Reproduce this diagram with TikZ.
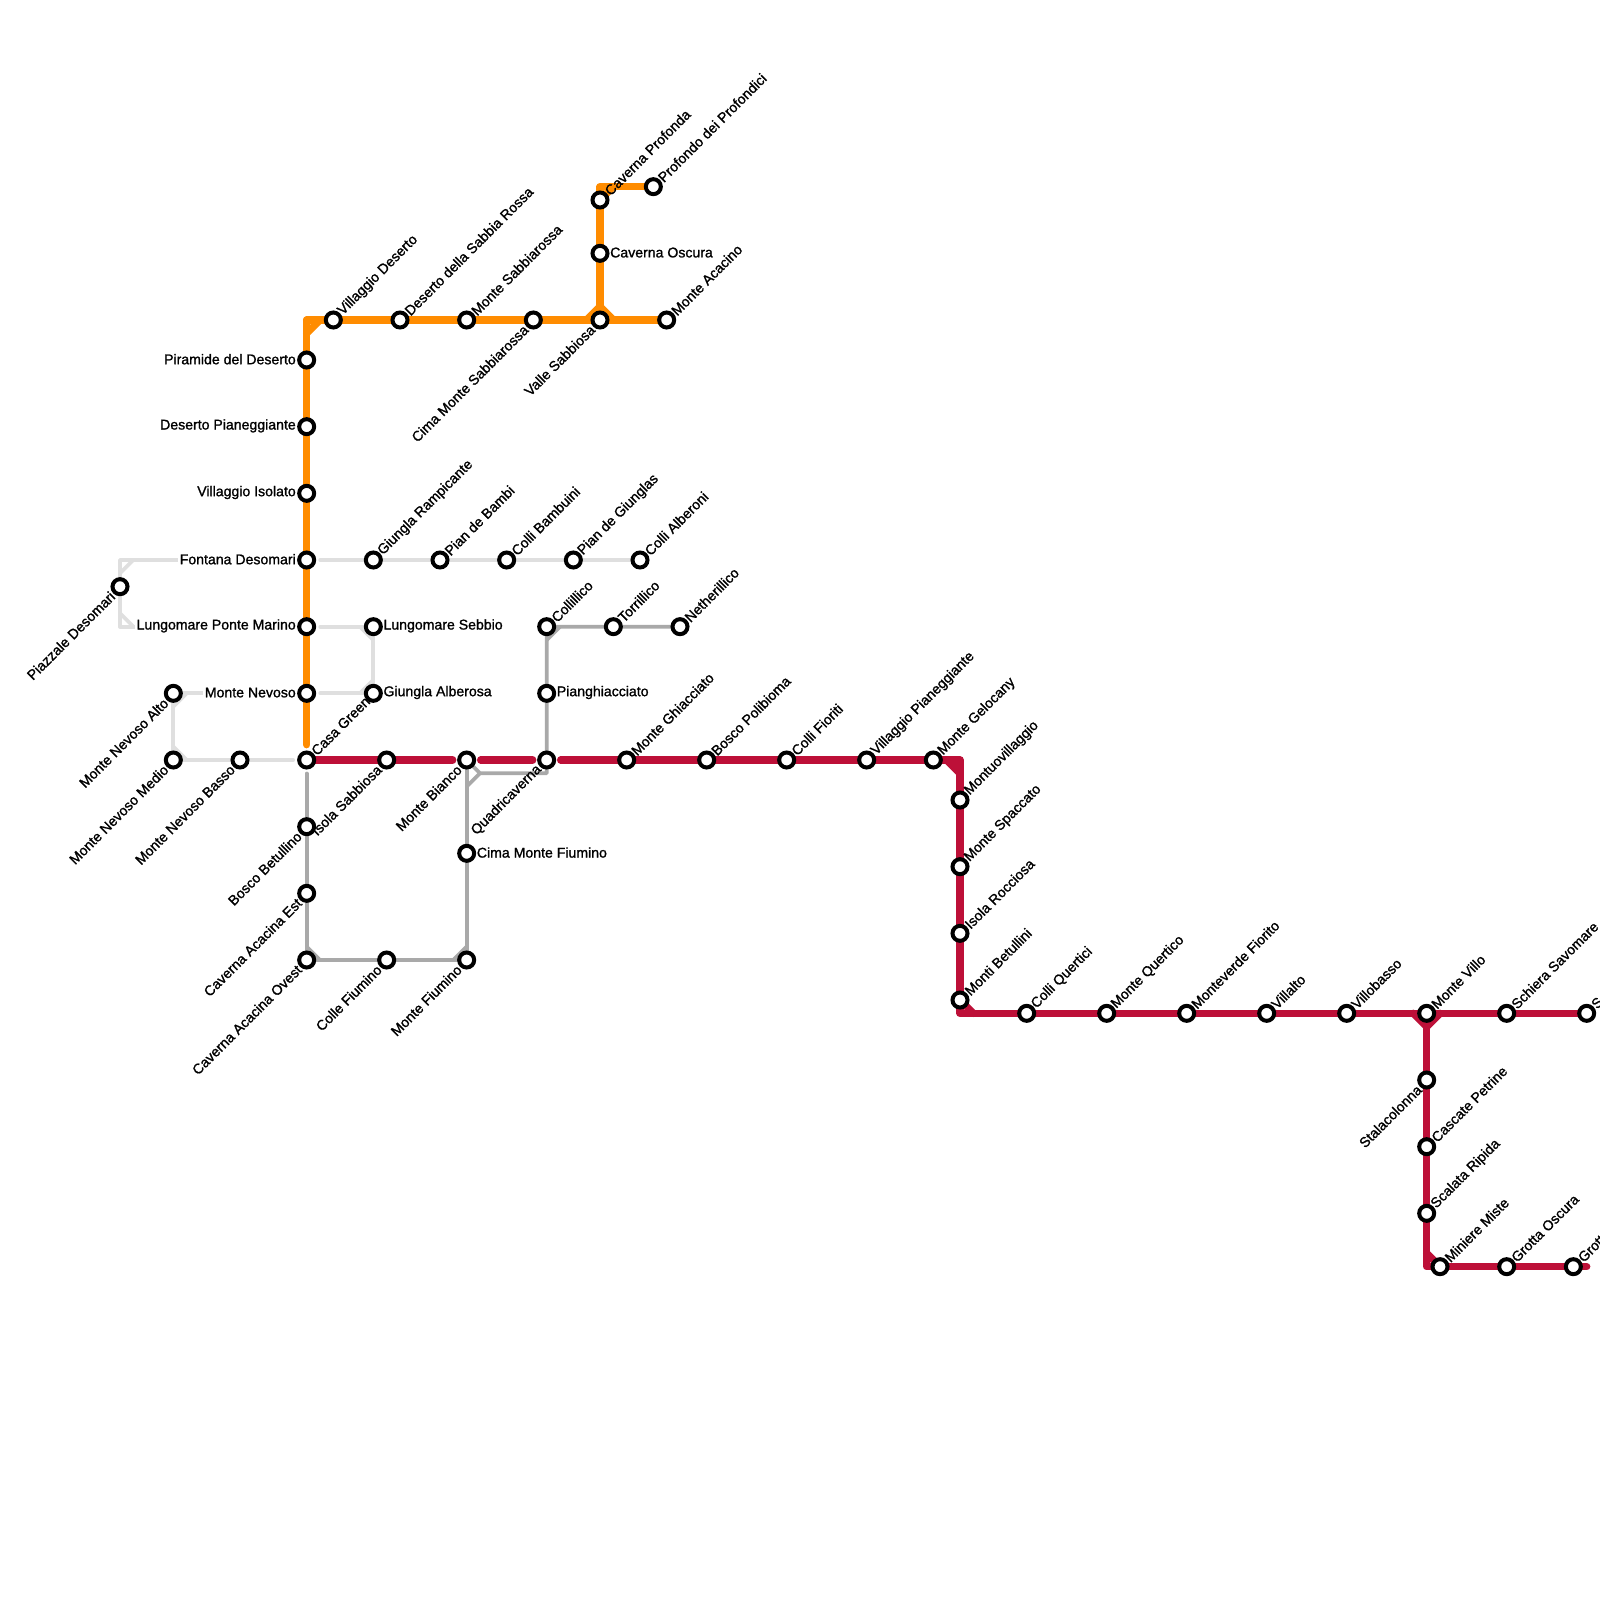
\documentclass[tikz,border=0pt]{standalone}
\usepackage{fontspec}
\setmainfont[FakeBold=1.2]{Liberation Sans}
\definecolor{lnorange}{HTML}{FF8C00}
\definecolor{lnred}{HTML}{BD1038}
\definecolor{lndark}{HTML}{A9A9A9}
\definecolor{lnlight}{HTML}{DFDFDF}
\tikzset{
  stn/.style={circle,draw=black,fill=white,line width=4pt,minimum size=15pt,inner sep=0pt},
  lbl/.style={font=\fontsize{14.1}{16}\selectfont,inner sep=0pt,text=black},
  lR/.style={lbl,anchor=west,xshift=10pt,yshift=0.8pt},
  lL/.style={lbl,anchor=east,xshift=-10.7pt,yshift=0.8pt},
  lLw/.style={lL,fill=white,inner sep=1.5pt,xshift=1.5pt},
  lU/.style={lbl,anchor=west,rotate=45,xshift=9.8pt},
  lD/.style={lbl,anchor=east,rotate=45,xshift=-10.4pt},
  orangeln/.style={draw=lnorange,line width=7.4pt,line cap=round,line join=round},
  redln/.style={draw=lnred,line width=7.4pt,line cap=round,line join=round},
  darkln/.style={draw=lndark,line width=3.7pt,line cap=round,line join=round},
  lightln/.style={draw=lnlight,line width=3.7pt,line cap=round,line join=round},
  gapA/.style={shorten <=13.5pt},
  gapB/.style={shorten >=13.5pt},
  gapRA/.style={shorten <=14pt},
  gapRB/.style={shorten >=14pt},
}
% name, x, y
\newcommand{\stpt}[3]{\coordinate (#1) at (#2,#3);}
\newcommand{\stlbl}[3]{\node[#2] at (#1) {#3};}
\newcommand{\stmark}[1]{\node[stn] (n#1) at (#1) {};}
\begin{document}
\begin{tikzpicture}[x=1pt,y=-1pt]
\useasboundingbox[fill=white] (0,0) rectangle (1600,1600);
% positions
\stpt{pd}{306.67}{360}\stpt{dp}{306.67}{426.67}\stpt{vi}{306.67}{493.33}\stpt{fd}{306.67}{560}
\stpt{lpm}{306.67}{626.67}\stpt{mn}{306.67}{693.33}\stpt{cg}{306.67}{760}
\stpt{vd}{333.33}{320}\stpt{dsr}{400}{320}\stpt{ms}{466.67}{320}\stpt{cms}{533.33}{320}
\stpt{vs}{600}{320}\stpt{mac}{666.67}{320}\stpt{cp}{600}{200}\stpt{pp}{653.33}{186.67}\stpt{co}{600}{253.33}
\stpt{gr}{373.33}{560}\stpt{pb}{440}{560}\stpt{cb}{506.67}{560}\stpt{pg}{573.33}{560}\stpt{ca}{640}{560}
\stpt{ls}{373.33}{626.67}\stpt{ga}{373.33}{693.33}
\stpt{mna}{173.33}{693.33}\stpt{mnm}{173.33}{760}\stpt{mnb}{240}{760}\stpt{pzd}{120}{586.67}
\stpt{cll}{546.67}{626.67}\stpt{tor}{613.33}{626.67}\stpt{net}{680}{626.67}\stpt{pia}{546.67}{693.33}\stpt{qua}{546.67}{760}
\stpt{mb}{466.67}{760}\stpt{cmf}{466.67}{853.33}\stpt{mf}{466.67}{960}\stpt{cf}{386.67}{960}
\stpt{cao}{306.67}{960}\stpt{cae}{306.67}{893.33}\stpt{bb}{306.67}{826.67}
\stpt{isa}{386.67}{760}\stpt{mgh}{626.67}{760}\stpt{bpo}{706.67}{760}\stpt{cfi}{786.67}{760}\stpt{vpi}{866.67}{760}\stpt{mge}{933.33}{760}
\stpt{mtv}{960}{800}\stpt{msp}{960}{866.67}\stpt{iro}{960}{933.33}\stpt{mbe}{960}{1000}
\stpt{cqu}{1026.67}{1013.33}\stpt{mqu}{1106.67}{1013.33}\stpt{mfi}{1186.67}{1013.33}\stpt{val}{1266.67}{1013.33}\stpt{vbs}{1346.67}{1013.33}
\stpt{mvi}{1426.67}{1013.33}\stpt{ssa}{1506.67}{1013.33}\stpt{sxx}{1586.67}{1013.33}
\stpt{sta}{1426.67}{1080}\stpt{cpe}{1426.67}{1146.67}\stpt{sri}{1426.67}{1213.33}
\stpt{mmi}{1440}{1266.67}\stpt{gos}{1506.67}{1266.67}\stpt{gxx}{1573.33}{1266.67}
% free corner points
\coordinate (k1) at (120,560);\coordinate (k2) at (120,626.67);\coordinate (k3) at (120,573.33);\coordinate (k4) at (133.33,560);
\coordinate (k5) at (120,613.33);\coordinate (k6) at (133.33,626.67);\coordinate (k7) at (360,626.67);\coordinate (k8) at (373.33,640);
\coordinate (k9) at (360,693.33);\coordinate (k10) at (373.33,680);\coordinate (k11) at (173.33,706.67);\coordinate (k12) at (186.67,693.33);
\coordinate (k13) at (173.33,746.67);\coordinate (k14) at (186.67,760);
\coordinate (g1) at (546.67,773.33);\coordinate (g2) at (480,773.33);\coordinate (g3) at (466.67,786.67);
\coordinate (g4) at (306.67,946.67);\coordinate (g5) at (320,960);\coordinate (g6) at (453.33,960);\coordinate (g7) at (466.67,946.67);
\coordinate (g8) at (546.67,640);\coordinate (g9) at (560,626.67);
\coordinate (o1) at (306.67,320);\coordinate (o2) at (306.67,333.33);\coordinate (o3) at (320,320);
\coordinate (o4) at (586.67,320);\coordinate (o5) at (600,306.67);\coordinate (o6) at (613.33,320);
\coordinate (o7) at (600,186.67);\coordinate (o8) at (613.33,186.67);
\coordinate (r1) at (960,760);\coordinate (r2) at (946.67,760);\coordinate (r3) at (960,773.33);
\coordinate (r4) at (960,1013.33);\coordinate (r5) at (973.33,1013.33);
\coordinate (r6) at (1413.33,1013.33);\coordinate (r7) at (1426.67,1026.67);\coordinate (r8) at (1440,1013.33);
\coordinate (r9) at (1426.67,1266.67);\coordinate (r10) at (1426.67,1253.33);
\coordinate (r11) at (1586.67,1266.67);
% light grey lines
\path[lightln] (fd) -- (k1) -- (pzd) -- (k2) -- (lpm);
\path[lightln] (k3) -- (k4);
\path[lightln] (k5) -- (k6);
\path[lightln,gapA] (fd) -- (gr) -- (pb) -- (cb) -- (pg) -- (ca);
\path[lightln,gapA] (lpm) -- (ls) -- (ga);
\path[lightln,gapB] (ga) -- (mn);
\path[lightln] (k7) -- (k8);
\path[lightln] (k9) -- (k10);
\path[lightln] (mn) -- (mna) -- (mnm) -- (mnb);
\path[lightln,gapB] (mnb) -- (cg);
\path[lightln] (k11) -- (k12);
\path[lightln] (k13) -- (k14);
% dark grey lines
\path[darkln] (net) -- (tor) -- (cll) -- (pia) -- (qua) -- (g1) -- (g2) -- (mb);
\path[darkln] (g2) -- (g3);
\path[darkln] (g8) -- (g9);
\path[darkln] (mb) -- (cmf) -- (mf) -- (cf) -- (cao) -- (cae) -- (bb);
\path[darkln,gapB] (bb) -- (cg);
\path[darkln] (g4) -- (g5);
\path[darkln] (g6) -- (g7);
% orange
\path[orangeln,shorten >=15.3pt] (o1) -- (cg);
\path[orangeln] (o1) -- (vd) -- (dsr) -- (ms) -- (cms) -- (vs) -- (mac);
\path[orangeln] (o2) -- (o3);
\path[orangeln] (o4) -- (o5) -- (o6);
\path[orangeln] (vs) -- (co) -- (cp) -- (o7) -- (pp);
\path[orangeln] (cp) -- (o8);
% red
\path[redln,gapRB] (cg) -- (isa) -- (mb);
\path[redln,gapRA,gapRB] (mb) -- (qua);
\path[redln,gapRA] (qua) -- (mgh) -- (bpo) -- (cfi) -- (vpi) -- (mge) -- (r1) -- (mtv) -- (msp) -- (iro) -- (mbe) -- (r4) -- (cqu) -- (mqu) -- (mfi) -- (val) -- (vbs) -- (mvi) -- (ssa) -- (sxx);
\path[redln] (r2) -- (r3);
\path[redln] (mbe) -- (r5);
\path[redln] (r6) -- (r7) -- (r8);
\path[redln] (mvi) -- (sta) -- (cpe) -- (sri) -- (r9) -- (mmi) -- (gos) -- (gxx) -- (r11);
\path[redln] (r10) -- (mmi);
% labels
\stlbl{pd}{lL}{Piramide del Deserto}
\stlbl{dp}{lL}{Deserto Pianeggiante}
\stlbl{vi}{lL}{Villaggio Isolato}
\stlbl{fd}{lLw}{Fontana Desomari}
\stlbl{lpm}{lLw}{Lungomare Ponte Marino}
\stlbl{mn}{lLw}{Monte Nevoso}
\stlbl{cg}{lU}{Casa Green}
\stlbl{vd}{lU}{Villaggio Deserto}
\stlbl{dsr}{lU}{Deserto della Sabbia Rossa}
\stlbl{ms}{lU}{Monte Sabbiarossa}
\stlbl{cms}{lD}{Cima Monte Sabbiarossa}
\stlbl{vs}{lD}{Valle Sabbiosa}
\stlbl{mac}{lU}{Monte Acacino}
\stlbl{cp}{lU}{Caverna Profonda}
\stlbl{pp}{lU}{Profondo dei Profondici}
\stlbl{co}{lR}{Caverna Oscura}
\stlbl{gr}{lU}{Giungla Rampicante}
\stlbl{pb}{lU}{Pian de Bambi}
\stlbl{cb}{lU}{Colli Bambuini}
\stlbl{pg}{lU}{Pian de Giunglas}
\stlbl{ca}{lU}{Colli Alberoni}
\stlbl{ls}{lR}{Lungomare Sebbio}
\stlbl{ga}{lR}{Giungla Alberosa}
\stlbl{mna}{lD}{Monte Nevoso Alto}
\stlbl{mnm}{lD}{Monte Nevoso Medio}
\stlbl{mnb}{lD}{Monte Nevoso Basso}
\stlbl{pzd}{lD}{Piazzale Desomari}
\stlbl{cll}{lU}{Collillico}
\stlbl{tor}{lU}{Torrillico}
\stlbl{net}{lU}{Netherillico}
\stlbl{pia}{lR}{Pianghiacciato}
\stlbl{qua}{lD}{Quadricaverna}
\stlbl{mb}{lD}{Monte Bianco}
\stlbl{cmf}{lR}{Cima Monte Fiumino}
\stlbl{mf}{lD}{Monte Fiumino}
\stlbl{cf}{lD}{Colle Fiumino}
\stlbl{cao}{lD}{Caverna Acacina Ovest}
\stlbl{cae}{lD}{Caverna Acacina Est}
\stlbl{bb}{lD}{Bosco Betullino}
\stlbl{isa}{lD}{Isola Sabbiosa}
\stlbl{mgh}{lU}{Monte Ghiacciato}
\stlbl{bpo}{lU}{Bosco Polibioma}
\stlbl{cfi}{lU}{Colli Fioriti}
\stlbl{vpi}{lU}{Villaggio Pianeggiante}
\stlbl{mge}{lU}{Monte Gelocany}
\stlbl{mtv}{lU}{Montuovillaggio}
\stlbl{msp}{lU}{Monte Spaccato}
\stlbl{iro}{lU}{Isola Rocciosa}
\stlbl{mbe}{lU}{Monti Betullini}
\stlbl{cqu}{lU}{Colli Quertici}
\stlbl{mqu}{lU}{Monte Quertico}
\stlbl{mfi}{lU}{Monteverde Fiorito}
\stlbl{val}{lU}{Villalto}
\stlbl{vbs}{lU}{Villobasso}
\stlbl{mvi}{lU}{Monte Villo}
\stlbl{ssa}{lU}{Schiera Savomare}
\stlbl{sxx}{lU}{Sc}
\stlbl{sta}{lD}{Stalacolonna}
\stlbl{cpe}{lU}{Cascate Petrine}
\stlbl{sri}{lU}{Scalata Ripida}
\stlbl{mmi}{lU}{Miniere Miste}
\stlbl{gos}{lU}{Grotta Oscura}
\stlbl{gxx}{lU}{Grotta}
% stations
\foreach \s in {pd,dp,vi,fd,lpm,mn,cg,vd,dsr,ms,cms,vs,mac,cp,pp,co,gr,pb,cb,pg,ca,ls,ga,mna,mnm,mnb,pzd,cll,tor,net,pia,qua,mb,cmf,mf,cf,cao,cae,bb,isa,mgh,bpo,cfi,vpi,mge,mtv,msp,iro,mbe,cqu,mqu,mfi,val,vbs,mvi,ssa,sxx,sta,cpe,sri,mmi,gos,gxx}{\stmark{\s}}
\end{tikzpicture}
\end{document}
